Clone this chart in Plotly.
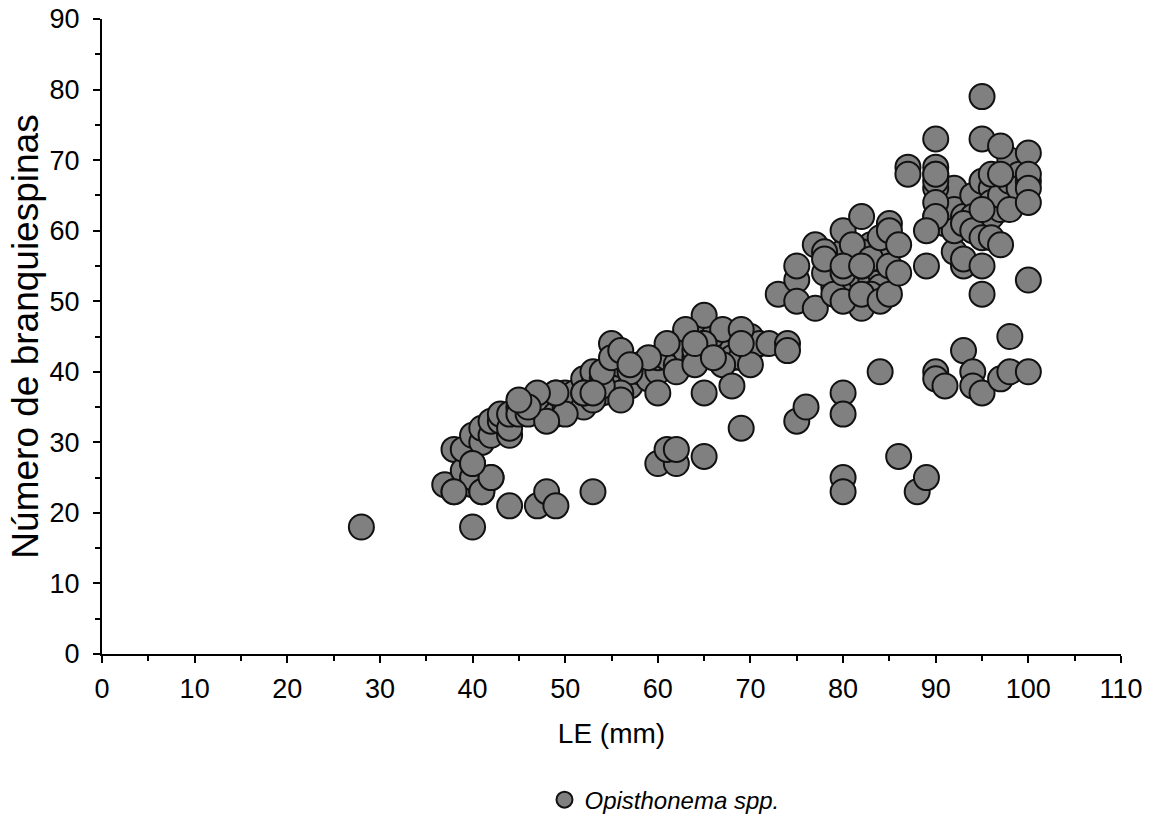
import plotly.graph_objects as go

# LE (mm) and number of gill rakers
le_mm = [
    28, 40,
    37, 38, 38, 39, 39, 40, 40, 40, 40, 41, 41, 41, 42, 42, 42, 43, 43, 44, 44, 44, 45, 45, 46, 46,
    47, 47, 48, 48, 49, 49, 50, 50, 51, 51, 52, 52, 53, 53, 54, 54, 55, 55, 56, 56, 57, 57, 58, 58, 59, 59,
    44, 47, 48, 49, 53, 38, 41, 42, 40,
    60, 60, 61, 61, 62, 62, 63, 63, 64, 64, 64, 65, 65, 66, 66, 67, 67, 68, 68, 69, 69, 70, 70, 71,
    65, 67, 69, 63, 61, 65, 72, 74, 74, 59, 62, 64, 67, 70, 60, 65, 68, 57, 56, 64, 69, 66,
    53, 54, 54, 55, 55, 56, 56, 57, 52, 52, 50, 53, 49, 48, 47, 46, 45,
    60, 62, 61, 62, 65, 69, 75, 76, 80, 80, 80, 80, 84, 86, 88, 89,
    79, 79, 80, 81, 81, 82, 83, 83, 84, 84, 81, 82, 83, 84, 80, 82,
    73, 75, 75, 75, 77, 77, 78, 78, 79, 80, 80, 80, 81, 82, 82, 82, 83, 84, 84, 85, 85, 85, 85, 86, 86, 78, 80, 82,
    87, 87,
    91, 91, 92, 92, 93, 93, 94, 94, 95, 95, 96, 96, 96, 97, 97, 98, 98, 99, 99, 100, 90, 90,
    90, 90, 90, 90, 90, 92, 92, 90, 89, 90, 89, 93, 93, 94, 95, 95, 95, 95, 95, 95, 96, 96, 97, 97, 97, 98, 100, 100, 100, 100, 100,
    90, 90, 91, 93, 94, 94, 95, 97, 98, 98, 100,
]
branquiespinas = [
    18, 18,
    24, 23, 29, 26, 29, 24, 25, 27, 31, 23, 30, 32, 25, 31, 33, 33, 34, 31, 32, 34, 35, 34, 35, 34,
    35, 36, 35, 36, 34, 37, 35, 37, 36, 37, 35, 39, 38, 40, 37, 39, 39, 40, 39, 41, 38, 41, 40, 41, 41, 39,
    21, 21, 23, 21, 23, 23, 23, 25, 27,
    40, 42, 43, 42, 41, 44, 44, 43, 45, 42, 43, 46, 44, 45, 43, 44, 42, 43, 42, 42, 45, 43, 45, 44,
    48, 46, 46, 46, 44, 44, 44, 44, 43, 42, 40, 41, 41, 41, 37, 37, 38, 40, 37, 44, 44, 42,
    36, 38, 40, 44, 42, 43, 36, 41, 37, 37, 34, 37, 37, 33, 37, 35, 36,
    27, 27, 29, 29, 28, 32, 33, 35, 37, 34, 25, 23, 40, 28, 23, 25,
    52, 56, 56, 53, 52, 53, 53, 58, 54, 52, 56, 57, 51, 56, 57, 49,
    51, 53, 55, 50, 58, 49, 54, 57, 51, 60, 54, 50, 58, 62, 51, 55, 56, 59, 50, 61, 60, 55, 51, 58, 54, 56, 55, 55,
    69, 68,
    61, 66, 66, 63, 55, 62, 65, 62, 62, 67, 62, 66, 64, 63, 65, 67, 70, 68, 66, 67, 62, 66,
    73, 69, 68, 67, 64, 57, 60, 68, 55, 62, 60, 61, 56, 60, 79, 73, 63, 59, 55, 51, 68, 59, 72, 68, 58, 63, 71, 68, 66, 64, 53,
    40, 39, 38, 43, 40, 38, 37, 39, 40, 45, 40,
]

x_ticks = [0, 10, 20, 30, 40, 50, 60, 70, 80, 90, 100, 110]
y_ticks = [0, 10, 20, 30, 40, 50, 60, 70, 80, 90]

FONT = "Liberation Sans, Arial, sans-serif"

fig = go.Figure()
fig.add_trace(go.Scatter(
    x=le_mm, y=branquiespinas, mode="markers",
    name="<i>Opisthonema spp.</i>",
    marker=dict(size=25, color="#808080", line=dict(color="#111111", width=2)),
    showlegend=True,
))

axis_common = dict(
    showline=True, linecolor="black", linewidth=2,
    ticks="outside", ticklen=7, tickwidth=2, tickcolor="black",
    showgrid=False, zeroline=False, mirror=False,
    tickfont=dict(family=FONT, size=27, color="black"),
    minor=dict(ticks="outside", ticklen=5, tickwidth=2, tickcolor="black", dtick=5, showgrid=False),
)

fig.update_xaxes(
    range=[0, 110], tickvals=x_ticks, ticktext=[str(v) for v in x_ticks],
    title=dict(text="LE (mm)", font=dict(family=FONT, size=28, color="black"), standoff=20),
    ticklabelstandoff=3,
    **axis_common,
)
fig.update_yaxes(
    range=[0, 90], tickvals=y_ticks, ticktext=[str(v) for v in y_ticks],
    title=dict(text="Número de branquiespinas", font=dict(family=FONT, size=37, color="black"), standoff=0),
    ticklabelstandoff=8,
    **axis_common,
)

fig.update_layout(
    width=1153, height=831,
    margin=dict(l=102, r=32, t=19, b=177, autoexpand=False),
    paper_bgcolor="white", plot_bgcolor="white",
    font=dict(family=FONT, color="black"),
    legend=dict(
        orientation="h", x=0.552, xanchor="center", y=-0.23, yanchor="middle",
        font=dict(family=FONT, size=24, color="black"),
        bgcolor="rgba(0,0,0,0)",
    ),
)

fig.write_html("out.html")
